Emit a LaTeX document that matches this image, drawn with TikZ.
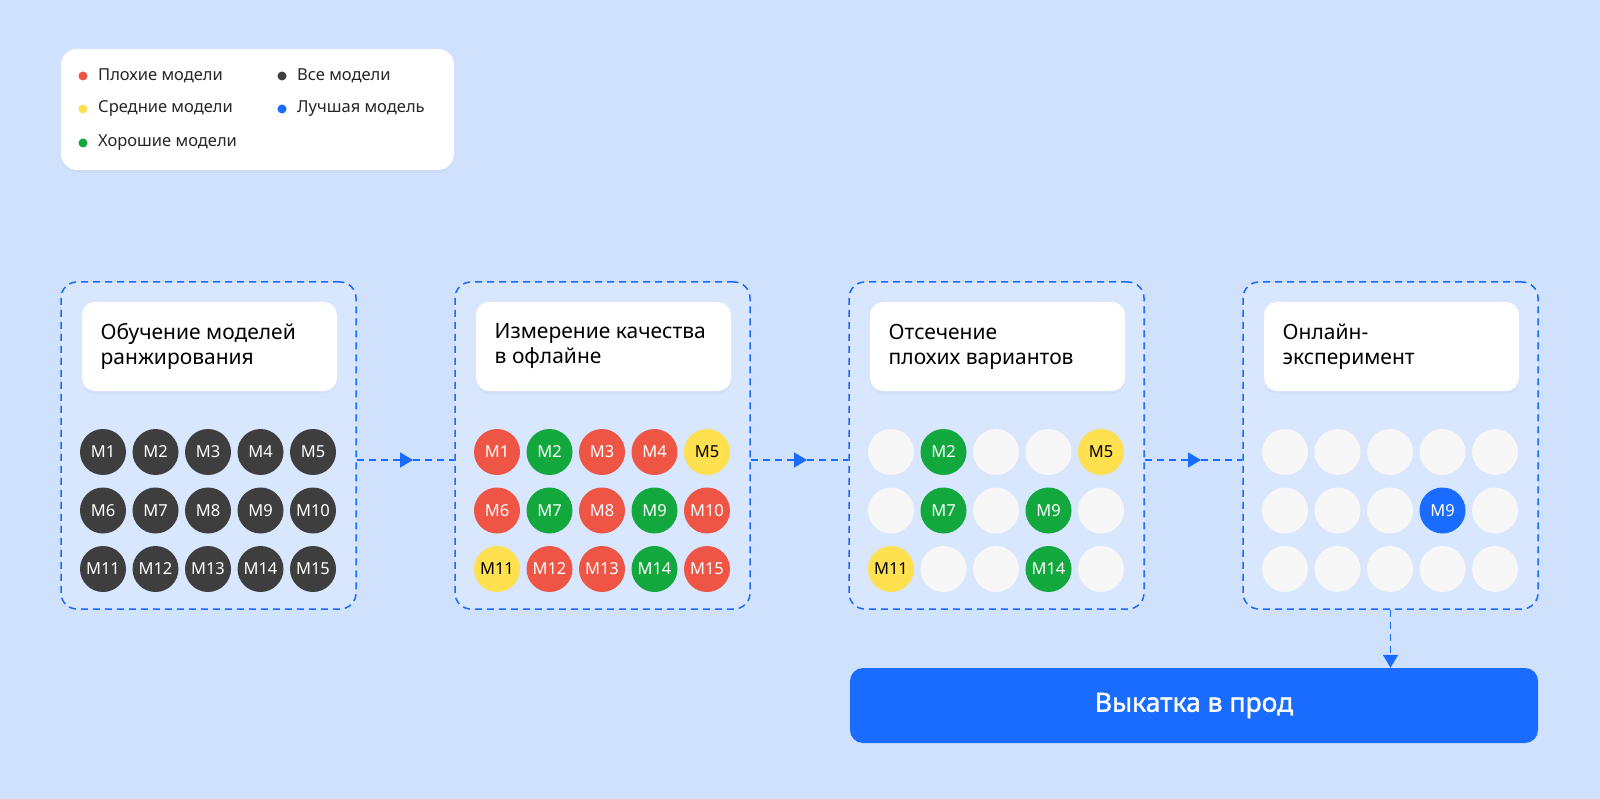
\documentclass[tikz,border=0pt]{standalone}
\usepackage{fontspec}
\setmainfont{Noto Sans}
\newfontfamily\medfont{Noto Sans}[FakeBold=1.3]
\usetikzlibrary{arrows.meta,shadows}

\definecolor{bgblue}{HTML}{D0E1FD}
\definecolor{panel}{HTML}{D8E6FE}
\definecolor{flowblue}{HTML}{1A6BFF}
\definecolor{allgray}{HTML}{3E3E3E}
\definecolor{badred}{HTML}{EE5545}
\definecolor{midyellow}{HTML}{FFE04E}
\definecolor{goodgreen}{HTML}{12A83E}
\definecolor{emptygray}{HTML}{F7F7F8}

\begin{document}
\begin{tikzpicture}[x=1pt,y=-1pt,
    stage/.style={draw=flowblue,dash pattern=on 7pt off 5pt,line width=1.5pt,
      rounded corners=16pt,fill=panel,minimum width=295pt,minimum height=327pt,inner sep=0pt},
    card/.style={fill=white,rounded corners=13pt,minimum width=255pt,minimum height=89pt,
      inner sep=0pt,drop shadow={shadow xshift=0pt,shadow yshift=-3pt,opacity=0.05}},
    title/.style={anchor=west,align=left,inner sep=0pt,font=\fontsize{21}{25}\selectfont},
    model/.style={circle,minimum size=46pt,inner sep=0pt,font=\fontsize{16.5}{17}\selectfont},
    all/.style={model,fill=allgray,text=white},
    bad/.style={model,fill=badred,text=white},
    mid/.style={model,fill=midyellow,text=black},
    good/.style={model,fill=goodgreen,text=white},
    best/.style={model,fill=flowblue,text=white},
    blank/.style={model,fill=emptygray},
    dot/.style={circle,minimum size=9pt,inner sep=0pt},
    legtext/.style={anchor=west,inner sep=0pt,font=\fontsize{16.5}{18}\selectfont,text=black!85},
    flow/.style={draw=flowblue,line width=1.5pt,dash pattern=on 7pt off 5pt},
    tip/.style={-{Triangle[length=13pt,width=15pt]}}
  ]
  \useasboundingbox[fill=bgblue] (0,0) rectangle (1600,799);

  % legend
  \node[fill=white,rounded corners=16pt,minimum width=393pt,minimum height=121pt,
    drop shadow={shadow xshift=0pt,shadow yshift=-3pt,opacity=0.05}] (legend) at (257.5,109.5) {};
  \node[dot,fill=badred] (dbad) at (83,76) {};
  \node[dot,fill=midyellow] (dmid) at (83,109) {};
  \node[dot,fill=goodgreen] (dgood) at (83,143) {};
  \node[dot,fill=allgray] (dall) at (282,76) {};
  \node[dot,fill=flowblue] (dbest) at (282,109) {};
  \node[legtext] (lbad) at (98,76) {Плохие модели};
  \node[legtext] (lmid) at (98,109) {Средние модели};
  \node[legtext] (lgood) at (98,143) {Хорошие модели};
  \node[legtext] (lall) at (297,76) {Все модели};
  \node[legtext] (lbest) at (297,109) {Лучшая модель};

  % stages
  \node[stage] (stage1) at (208.5,445.5) {};
  \node[stage] (stage2) at (602.5,445.5) {};
  \node[stage] (stage3) at (996.5,445.5) {};
  \node[stage] (stage4) at (1390.5,445.5) {};

  \node[card] (card1) at (209.5,346.5) {};
  \node[card] (card2) at (603.5,346.5) {};
  \node[card] (card3) at (997.5,346.5) {};
  \node[card] (card4) at (1391.5,346.5) {};
  \node[title] (title1) at (100.5,346.5) {Обучение моделей\\ранжирования};
  \node[title] (title2) at (494.5,346.5) {Измерение качества\\в офлайне};
  \node[title] (title3) at (888.5,346.5) {Отсечение\\плохих вариантов};
  \node[title] (title4) at (1282.5,346.5) {Онлайн-\\эксперимент};

  % models
  \foreach \st/\lbl [count=\k from 0] in {all/M1,all/M2,all/M3,all/M4,all/M5,
      all/M6,all/M7,all/M8,all/M9,all/M10,all/M11,all/M12,all/M13,all/M14,all/M15}
    \node[\st] (a\k) at ({103+52.5*mod(\k,5)},{452+58.5*int(\k/5)}) {\lbl};
  \foreach \st/\lbl [count=\k from 0] in {bad/M1,good/M2,bad/M3,bad/M4,mid/M5,
      bad/M6,good/M7,bad/M8,good/M9,bad/M10,mid/M11,bad/M12,bad/M13,good/M14,bad/M15}
    \node[\st] (b\k) at ({497+52.5*mod(\k,5)},{452+58.5*int(\k/5)}) {\lbl};
  \foreach \st/\lbl [count=\k from 0] in {blank/{},good/M2,blank/{},blank/{},mid/M5,
      blank/{},good/M7,blank/{},good/M9,blank/{},mid/M11,blank/{},blank/{},good/M14,blank/{}}
    \node[\st] (c\k) at ({891+52.5*mod(\k,5)},{452+58.5*int(\k/5)}) {\lbl};
  \foreach \st/\lbl [count=\k from 0] in {blank/{},blank/{},blank/{},blank/{},blank/{},
      blank/{},blank/{},blank/{},best/M9,blank/{},blank/{},blank/{},blank/{},blank/{},blank/{}}
    \node[\st] (d\k) at ({1285+52.5*mod(\k,5)},{452+58.5*int(\k/5)}) {\lbl};

  % rollout
  \node[fill=flowblue,rounded corners=13pt,minimum width=688pt,minimum height=75pt,
    text=white,font=\medfont\fontsize{26.5}{30}\selectfont] (deploy) at (1194,705.5) {Выкатка в прод};

  % connectors
  \coordinate (m12) at (413,460);
  \coordinate (m23) at (807,460);
  \coordinate (m34) at (1201,460);
  \draw[flow,tip] (stage1.east |- m12) -- (m12);
  \draw[flow] (m12) -- (stage2.west |- m12);
  \draw[flow,tip] (stage2.east |- m23) -- (m23);
  \draw[flow] (m23) -- (stage3.west |- m23);
  \draw[flow,tip] (stage3.east |- m34) -- (m34);
  \draw[flow] (m34) -- (stage4.west |- m34);
  \draw[flow,tip] (stage4.south) -- (deploy.north -| stage4.south);
\end{tikzpicture}
\end{document}
